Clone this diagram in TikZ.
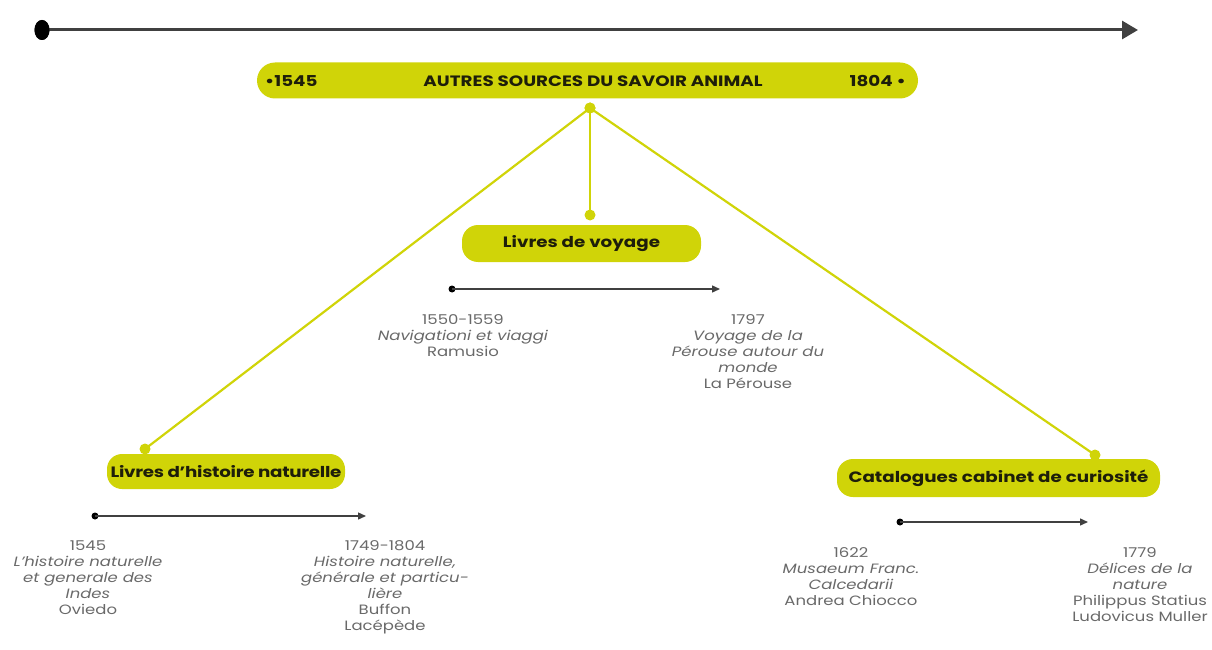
\documentclass[tikz,border=0pt]{standalone}
\usepackage{fontspec}
\setmainfont{Poppins}
\newfontfamily\boxfont[FakeStretch=1.22]{Poppins}
\newfontfamily\bodyfont[FakeStretch=1.22]{Poppins}
\usetikzlibrary{arrows.meta,shapes.geometric}
\definecolor{ylw}{RGB}{208,212,8}
\definecolor{txtg}{RGB}{105,105,105}
\definecolor{boxt}{RGB}{30,30,10}
\tikzset{
  ybox/.style={fill=ylw, rounded corners=14pt, text=boxt, font=\boxfont\bfseries\fontsize{15}{17}\selectfont, inner sep=0pt},
  btext/.style={text=boxt, font=\boxfont\bfseries\fontsize{15}{17}\selectfont, inner sep=0pt},
  ydot/.style={circle, fill=ylw, minimum size=11pt, inner sep=0pt},
  yline/.style={draw=ylw, line width=2.2pt},
  bdot/.style={circle, fill=black, minimum size=7pt, inner sep=0pt},
  tline/.style={draw=black!75, line width=1.4pt, -{Triangle[length=8pt,width=7pt]}},
  info/.style={align=center, text=txtg, font=\bodyfont\fontsize{13.5}{16}\selectfont, inner sep=0pt, anchor=north},
}
\begin{document}
\begin{tikzpicture}[x=1pt,y=-1pt]
\useasboundingbox (0,0) rectangle (1212,650);
% main timeline
\node[ellipse, fill=black, minimum width=15pt, minimum height=20pt, inner sep=0pt] (mstart) at (42,30) {};
\coordinate (mend) at (1138,30);
\draw[draw=black!75, line width=3pt, -{Triangle[length=16pt,width=18pt]}] (mstart.center) -- (mend);
\node[ellipse, fill=black, minimum width=15pt, minimum height=20pt, inner sep=0pt] at (42,30) {};
% main bar
\node[ybox, minimum width=661pt, minimum height=36pt, rounded corners=18pt] (bar) at (587.5,80.5) {};
\node[btext, anchor=west] (bl) at (265,81) {•1545};
\node[btext] (bc) at (593,81) {AUTRES SOURCES DU SAVOIR ANIMAL};
\node[btext, anchor=east] (br) at (906,81) {1804 •};
% junction and connectors
\node[ydot] (j) at (590,108) {};
\node[ydot] (dv) at (590,215) {};
\node[ydot] (dh) at (145,449) {};
\node[ydot] (dc) at (1095,455) {};
\draw[yline] (j.center) -- (dv.center);
\draw[yline] (j.center) -- (dh.center);
\draw[yline] (j.center) -- (dc.center);
\node[ydot] at (590,108) {};
% category boxes
\node[ybox, minimum width=239pt, minimum height=37pt, rounded corners=16pt] (voy) at (581.5,243.5) {Livres de voyage};
\node[ybox, minimum width=238pt, minimum height=35pt, rounded corners=15pt] (hist) at (226,471.5) {\addfontfeature{LetterSpace=-2}Livres d’histoire naturelle};
\node[ybox, minimum width=323pt, minimum height=38pt, rounded corners=16pt] (cat) at (998.5,478) {Catalogues cabinet de curiosité};
% voyage timeline
\node[bdot] (v1) at (452,289) {};
\coordinate (v2) at (720,289);
\draw[tline] (v1.center) -- (v2);
\node[info] (vt1) at (463,314) {1550-1559\\\textit{Navigationi et viaggi}\\Ramusio};
\node[info] (vt2) at (748,314) {1797\\\textit{Voyage de la}\\\textit{Pérouse autour du}\\\textit{monde}\\La Pérouse};
% histoire timeline
\node[bdot] (h1) at (95,516) {};
\coordinate (h2) at (366,516);
\draw[tline] (h1.center) -- (h2);
\node[info] (ht1) at (88,541) {1545\\\textit{L’histoire naturelle}\\\textit{et generale des}\\\textit{Indes}\\Oviedo};
\node[info] (ht2) at (385,540) {1749-1804\\\textit{Histoire naturelle,}\\\textit{générale et particu-}\\\textit{lière}\\Buffon\\Lacépède};
% catalogues timeline
\node[bdot] (c1) at (900,522) {};
\coordinate (c2) at (1088,522);
\draw[tline] (c1.center) -- (c2);
\node[info] (ct1) at (851,547) {1622\\\textit{Musaeum Franc.}\\\textit{Calcedarii}\\Andrea Chiocco};
\node[info] (ct2) at (1140,547) {1779\\\textit{Délices de la}\\\textit{nature}\\Philippus Statius\\Ludovicus Muller};
\end{tikzpicture}
\end{document}
